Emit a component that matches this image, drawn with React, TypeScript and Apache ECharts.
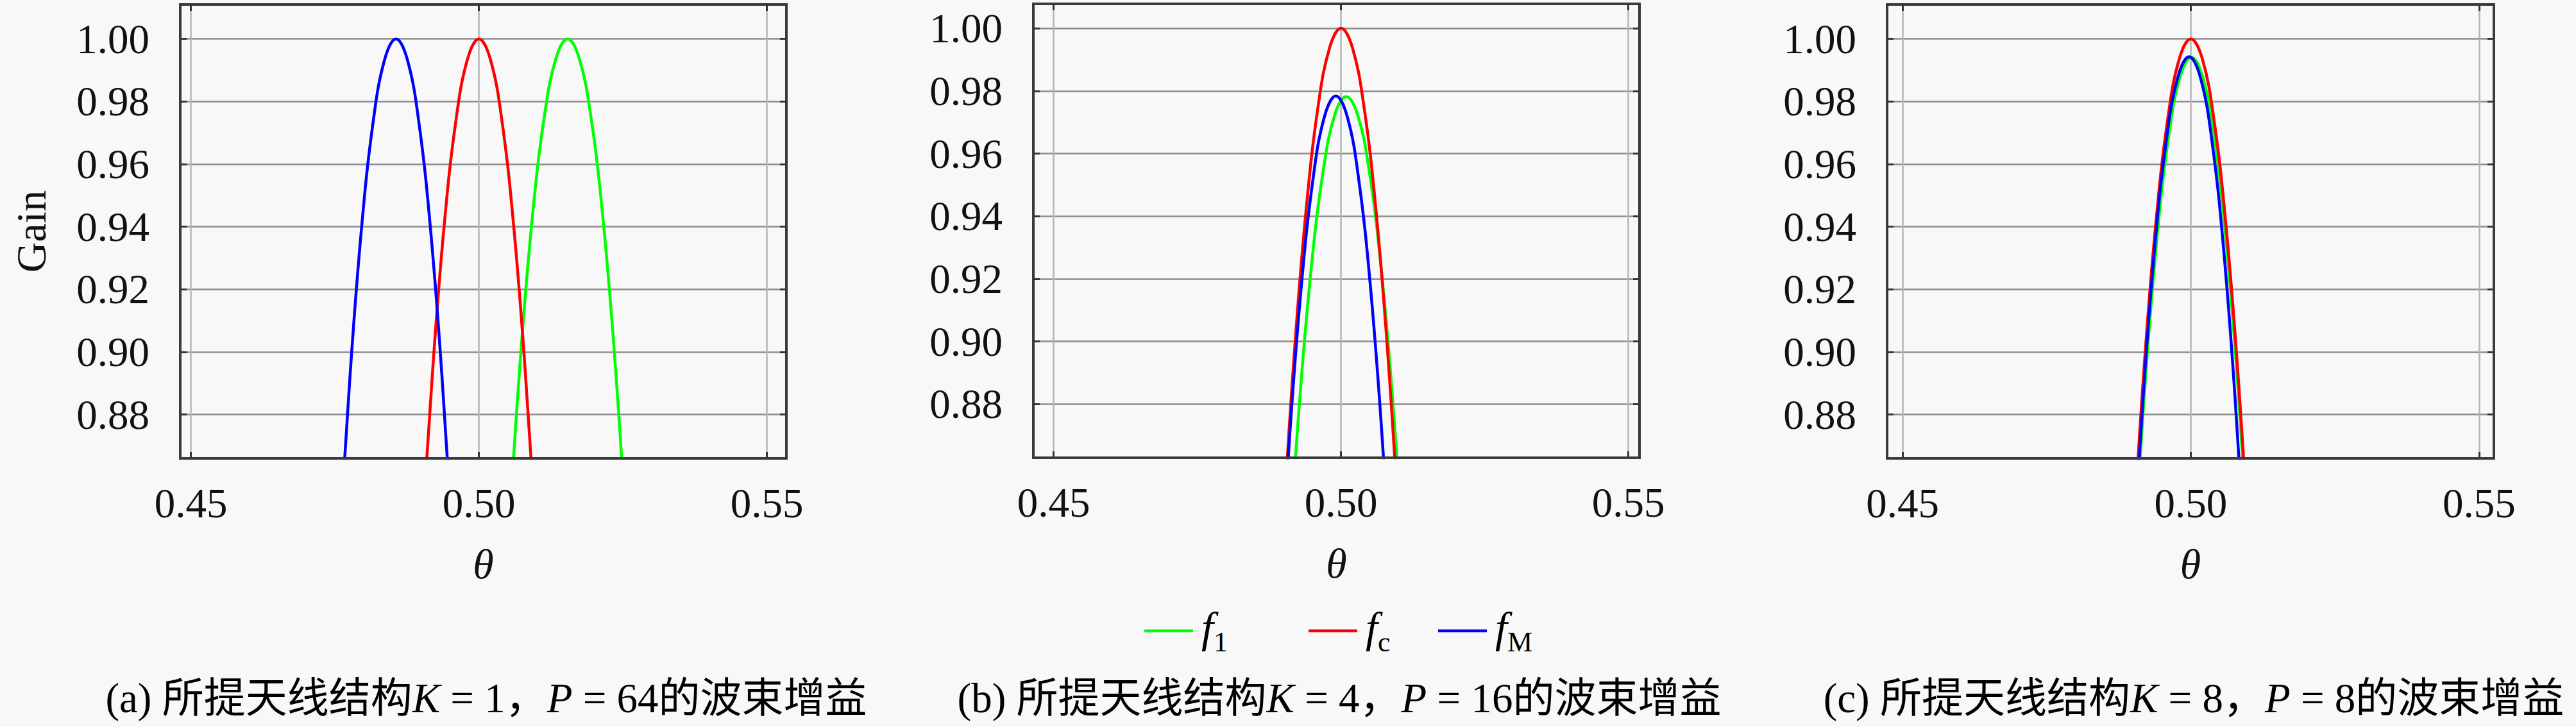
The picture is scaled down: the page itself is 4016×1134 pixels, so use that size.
import { useEffect, useRef } from 'react';
import * as echarts from 'echarts';

const SERIF = 'Liberation Serif';
const CAPTION_FONT = 'Liberation Serif, Noto Sans CJK SC';

// ---- data ----
const seriesNames = ['f1', 'fc', 'fM'];
const seriesSubs = ['1', 'c', 'M'];
const seriesColors = ['#00ff00', '#ff0000', '#0000ff'];

const xTickStep = 0.05; // tick labels 0.45, 0.50, 0.55
const yTickStep = 0.02; // tick labels 0.88 ... 1.00

// (a) K=1, P=64
const thetaA1 = [0.5034, 0.5054, 0.5074, 0.5094, 0.5114, 0.5134, 0.5154, 0.5174, 0.5194, 0.5214, 0.5234, 0.5254, 0.5274];
const gainA1 = [0.781, 0.848, 0.9027, 0.9453, 0.9757, 0.9939, 1.0, 0.9939, 0.9757, 0.9453, 0.9027, 0.848, 0.781];
const thetaAc = [0.488, 0.49, 0.492, 0.494, 0.496, 0.498, 0.5, 0.502, 0.504, 0.506, 0.508, 0.51, 0.512];
const gainAc = [0.764, 0.836, 0.895, 0.941, 0.9738, 0.9934, 1.0, 0.9934, 0.9738, 0.941, 0.895, 0.836, 0.764];
const thetaAM = [0.4736, 0.4756, 0.4776, 0.4796, 0.4816, 0.4836, 0.4856, 0.4876, 0.4896, 0.4916, 0.4936, 0.4956, 0.4976];
const gainAM = [0.7566, 0.831, 0.8918, 0.9392, 0.973, 0.9932, 1.0, 0.9932, 0.973, 0.9392, 0.8918, 0.831, 0.7566];

// (b) K=4, P=16
const thetaB1 = [0.4889, 0.4909, 0.4929, 0.4949, 0.4969, 0.4989, 0.5009, 0.5029, 0.5049, 0.5069, 0.5089, 0.5109, 0.5129];
const gainB1 = [0.7652, 0.8302, 0.8835, 0.9249, 0.9545, 0.9723, 0.9782, 0.9723, 0.9545, 0.9249, 0.8835, 0.8302, 0.7652];
const thetaBc = [0.488, 0.49, 0.492, 0.494, 0.496, 0.498, 0.5, 0.502, 0.504, 0.506, 0.508, 0.51, 0.512];
const gainBc = [0.774, 0.843, 0.8995, 0.9435, 0.9749, 0.9937, 1.0, 0.9937, 0.9749, 0.9435, 0.8995, 0.843, 0.774];
const thetaBM = [0.4871, 0.4891, 0.4911, 0.4931, 0.4951, 0.4971, 0.4991, 0.5011, 0.5031, 0.5051, 0.5071, 0.5091, 0.5111];
const gainBM = [0.7364, 0.8104, 0.8709, 0.9179, 0.9515, 0.9717, 0.9784, 0.9717, 0.9515, 0.9179, 0.8709, 0.8104, 0.7364];

// (c) K=8, P=8
const thetaC1 = [0.4881, 0.4901, 0.4921, 0.4941, 0.4961, 0.4981, 0.5001, 0.5021, 0.5041, 0.5061, 0.5081, 0.5101, 0.5121];
const gainC1 = [0.7608, 0.8321, 0.8906, 0.9358, 0.9682, 0.9876, 0.9941, 0.9876, 0.9682, 0.9358, 0.8906, 0.8321, 0.7608];
const thetaCc = [0.488, 0.49, 0.492, 0.494, 0.496, 0.498, 0.5, 0.502, 0.504, 0.506, 0.508, 0.51, 0.512];
const gainCc = [0.7696, 0.84, 0.8976, 0.9424, 0.9744, 0.9936, 1.0, 0.9936, 0.9744, 0.9424, 0.8976, 0.84, 0.7696];
const thetaCM = [0.4877, 0.4897, 0.4917, 0.4937, 0.4957, 0.4977, 0.4997, 0.5017, 0.5037, 0.5057, 0.5077, 0.5097, 0.5117];
const gainCM = [0.7473, 0.8228, 0.8845, 0.9326, 0.9669, 0.9874, 0.9943, 0.9874, 0.9669, 0.9326, 0.8845, 0.8228, 0.7473];

const captions = [
  '(a) 所提天线结构{i|K} = 1，{i|P} = 64的波束增益',
  '(b) 所提天线结构{i|K} = 4，{i|P} = 16的波束增益',
  '(c) 所提天线结构{i|K} = 8，{i|P} = 8的波束增益',
];

const panelCurves = [
  [[thetaA1, gainA1], [thetaAc, gainAc], [thetaAM, gainAM]],
  [[thetaB1, gainB1], [thetaBc, gainBc], [thetaBM, gainBM]],
  [[thetaC1, gainC1], [thetaCc, gainCc], [thetaCM, gainCM]],
];

const xRanges = [[0.44814, 0.55339], [0.44646, 0.55194], [0.44733, 0.55256]];
const yRanges = [[0.866, 1.011], [0.8629, 1.0078], [0.866, 1.011]];

// ---- layout (pixels) ----
const gridBoxes = [
  { left: 281, top: 7, width: 945, height: 708 },
  { left: 1611, top: 6, width: 945, height: 708 },
  { left: 2942, top: 7, width: 946, height: 708 },
];
const captionCenters = [758, 2088, 3420];
const legendLefts = [1784, 2040, 2242];

const fmt = (step: number) => (v: number) => {
  const r = v / step;
  return Math.abs(r - Math.round(r)) < 1e-6 ? v.toFixed(2) : '';
};

const tickStyle = { show: true, inside: true, length: 10, lineStyle: { color: '#333333', width: 3 } };

function buildOption() {
  const grid: any[] = [];
  const xAxis: any[] = [];
  const yAxis: any[] = [];
  const series: any[] = [];
  const title: any[] = [];

  gridBoxes.forEach((b, gi) => {
    grid.push({
      ...b,
      show: true,
      z: 3,
      borderColor: '#3a3a3a',
      borderWidth: 4,
      backgroundColor: 'transparent',
    });
    const [xMin, xMax] = xRanges[gi];
    const [yMin, yMax] = yRanges[gi];
    const xCommon = {
      type: 'value',
      gridIndex: gi,
      min: xMin,
      max: xMax,
      splitNumber: 2,
      minInterval: xTickStep,
      maxInterval: xTickStep,
      axisLine: { show: false },
      axisTick: tickStyle,
    };
    const yCommon = {
      type: 'value',
      gridIndex: gi,
      min: yMin,
      max: yMax,
      splitNumber: 7,
      minInterval: yTickStep,
      maxInterval: yTickStep,
      axisLine: { show: false },
      axisTick: tickStyle,
    };
    xAxis.push({
      ...xCommon,
      position: 'bottom',
      axisLabel: { show: true, margin: 37, fontSize: 65, fontFamily: SERIF, color: '#111', formatter: fmt(xTickStep) },
      splitLine: { show: true, lineStyle: { color: '#b4b4b4', width: 2.5 } },
      name: 'θ',
      nameLocation: 'middle',
      nameGap: 131,
      nameTextStyle: { fontSize: 66, fontStyle: 'italic', fontFamily: SERIF, color: '#111' },
    });
    xAxis.push({
      ...xCommon,
      position: 'top',
      axisLabel: { show: false },
      splitLine: { show: false },
    });
    yAxis.push({
      ...yCommon,
      position: 'left',
      axisLabel: { show: true, margin: 48, fontSize: 65, fontFamily: SERIF, color: '#111', formatter: fmt(yTickStep) },
      splitLine: { show: true, lineStyle: { color: '#8c8c8c', width: 2.5 } },
      ...(gi === 0
        ? {
            name: 'Gain',
            nameLocation: 'middle',
            nameGap: 200,
            nameRotate: 90,
            nameTextStyle: { fontSize: 66, fontFamily: SERIF, color: '#111' },
          }
        : {}),
    });
    yAxis.push({
      ...yCommon,
      position: 'right',
      axisLabel: { show: false },
      splitLine: { show: false },
    });

    panelCurves[gi].forEach(([th, g], si) => {
      series.push({
        type: 'line',
        name: seriesNames[si],
        xAxisIndex: gi * 2,
        yAxisIndex: gi * 2,
        data: th.map((t, i) => [t, g[i]]),
        symbol: 'none',
        showSymbol: false,
        smooth: 0.4,
        clip: true,
        z: 2,
        lineStyle: { width: 4.5, color: seriesColors[si] },
        itemStyle: { color: seriesColors[si] },
      });
    });

    title.push({
      text: captions[gi],
      left: captionCenters[gi],
      top: 1056,
      padding: 0,
      textAlign: 'center',
      textStyle: {
        fontSize: 65,
        fontWeight: 'normal',
        fontFamily: CAPTION_FONT,
        color: '#000',
        rich: {
          i: { fontSize: 65, fontStyle: 'italic', fontFamily: SERIF, color: '#000' },
        },
      },
    });
  });

  const legend = seriesNames.map((n, i) => ({
    data: [n],
    left: legendLefts[i],
    top: 945,
    padding: 0,
    icon: 'rect',
    itemWidth: 76,
    itemHeight: 4.5,
    selectedMode: false,
    formatter: () => `{f|f}{s|${seriesSubs[i]}}`,
    textStyle: {
      rich: {
        f: { fontSize: 68, fontStyle: 'italic', fontFamily: SERIF, color: '#000', padding: [0, 0, 10, 8], verticalAlign: 'bottom' },
        s: { fontSize: 44, fontFamily: SERIF, color: '#000', verticalAlign: 'bottom' },
      },
    },
  }));

  return {
    animation: false,
    backgroundColor: '#f8f8f8',
    textStyle: { fontFamily: SERIF },
    grid,
    xAxis,
    yAxis,
    series,
    title,
    legend,
  };
}

export default function App() {
  const ref = useRef<HTMLDivElement>(null);
  useEffect(() => {
    document.body.style.margin = '0';
    document.body.style.background = '#f8f8f8';
    if (!ref.current) return;
    const chart = echarts.init(ref.current, undefined, { renderer: 'svg' });
    chart.setOption(buildOption() as any);
    return () => chart.dispose();
  }, []);
  return <div ref={ref} style={{ width: 4016, height: 1134 }} />;
}
